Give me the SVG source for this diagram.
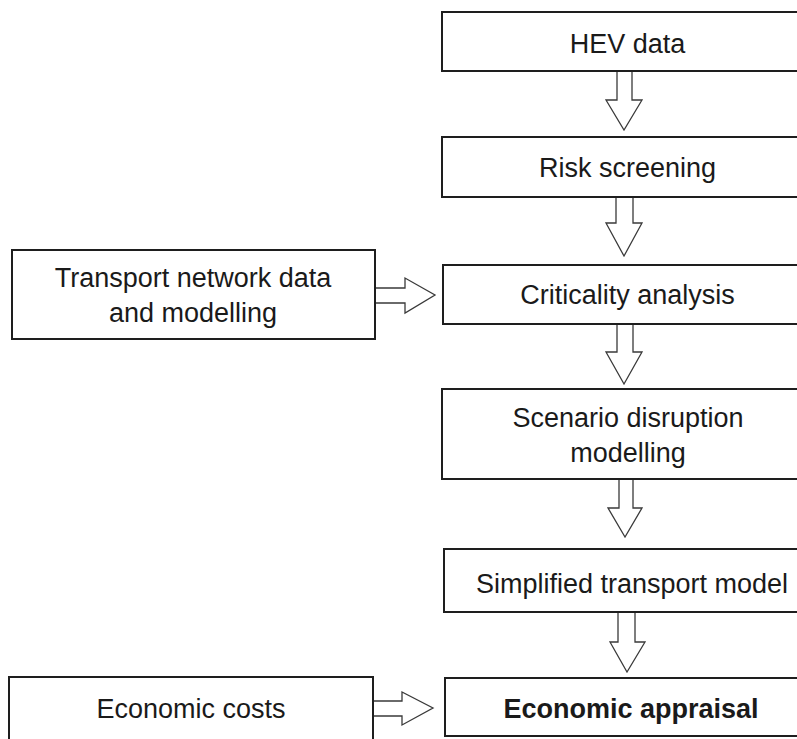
<svg xmlns="http://www.w3.org/2000/svg" width="797" height="739" viewBox="0 0 797 739">
<style>
.box{fill:#fff;stroke:#1e1e1e;stroke-width:2}
.arr{fill:#fff;stroke:#3a3a3a;stroke-width:1.3;stroke-linejoin:miter}
.t{font-family:"Liberation Sans",Arial,sans-serif;font-size:27px;fill:#1a1a1a;text-anchor:middle}
.b{font-weight:bold}
</style>
<rect width="797" height="739" fill="#fff"/>
<g id="connectors">
<path class="arr" d="M617,71 V100 H606 L624,130 L642,100 H632 V71"/>
<path class="arr" d="M616,197 V223 H606 L624,256 L642,223 H633 V197"/>
<path class="arr" d="M617,324 V352 H606 L624,384 L642,352 H633 V324"/>
<path class="arr" d="M619,479 V508 H608 L625,537 L642,508 H633 V479"/>
<path class="arr" d="M618,612 V642 H610 L627,672 L645,642 H635 V612"/>
<path class="arr" d="M375,288 H405 V278 L435,295 L405,313 V303 H375"/>
<path class="arr" d="M373,701 H402 V692 L433,708 L402,725 V716 H373"/>
</g>
<g id="hev"><rect class="box" x="442" y="12" width="372" height="59"/><text class="t" x="627.5" y="53">HEV data</text></g>
<g id="risk"><rect class="box" x="442" y="137" width="372" height="60"/><text class="t" x="627.5" y="177">Risk screening</text></g>
<g id="criticality"><rect class="box" x="443" y="265" width="372" height="59"/><text class="t" x="627.5" y="304">Criticality analysis</text></g>
<g id="transport"><rect class="box" x="12" y="250" width="363" height="89"/><text class="t" x="193" y="287">Transport network data</text><text class="t" x="193" y="322">and modelling</text></g>
<g id="scenario"><rect class="box" x="442" y="389" width="372" height="90"/><text class="t" x="628" y="427">Scenario disruption</text><text class="t" x="628" y="462">modelling</text></g>
<g id="simplified"><rect class="box" x="444" y="549" width="372" height="63"/><text class="t" x="632" y="593">Simplified transport model</text></g>
<g id="appraisal"><rect class="box" x="445" y="678" width="372" height="58"/><text class="t b" x="631" y="718">Economic appraisal</text></g>
<g id="costs"><rect class="box" x="9" y="677" width="364" height="70"/><text class="t" x="191" y="718">Economic costs</text></g>
</svg>
